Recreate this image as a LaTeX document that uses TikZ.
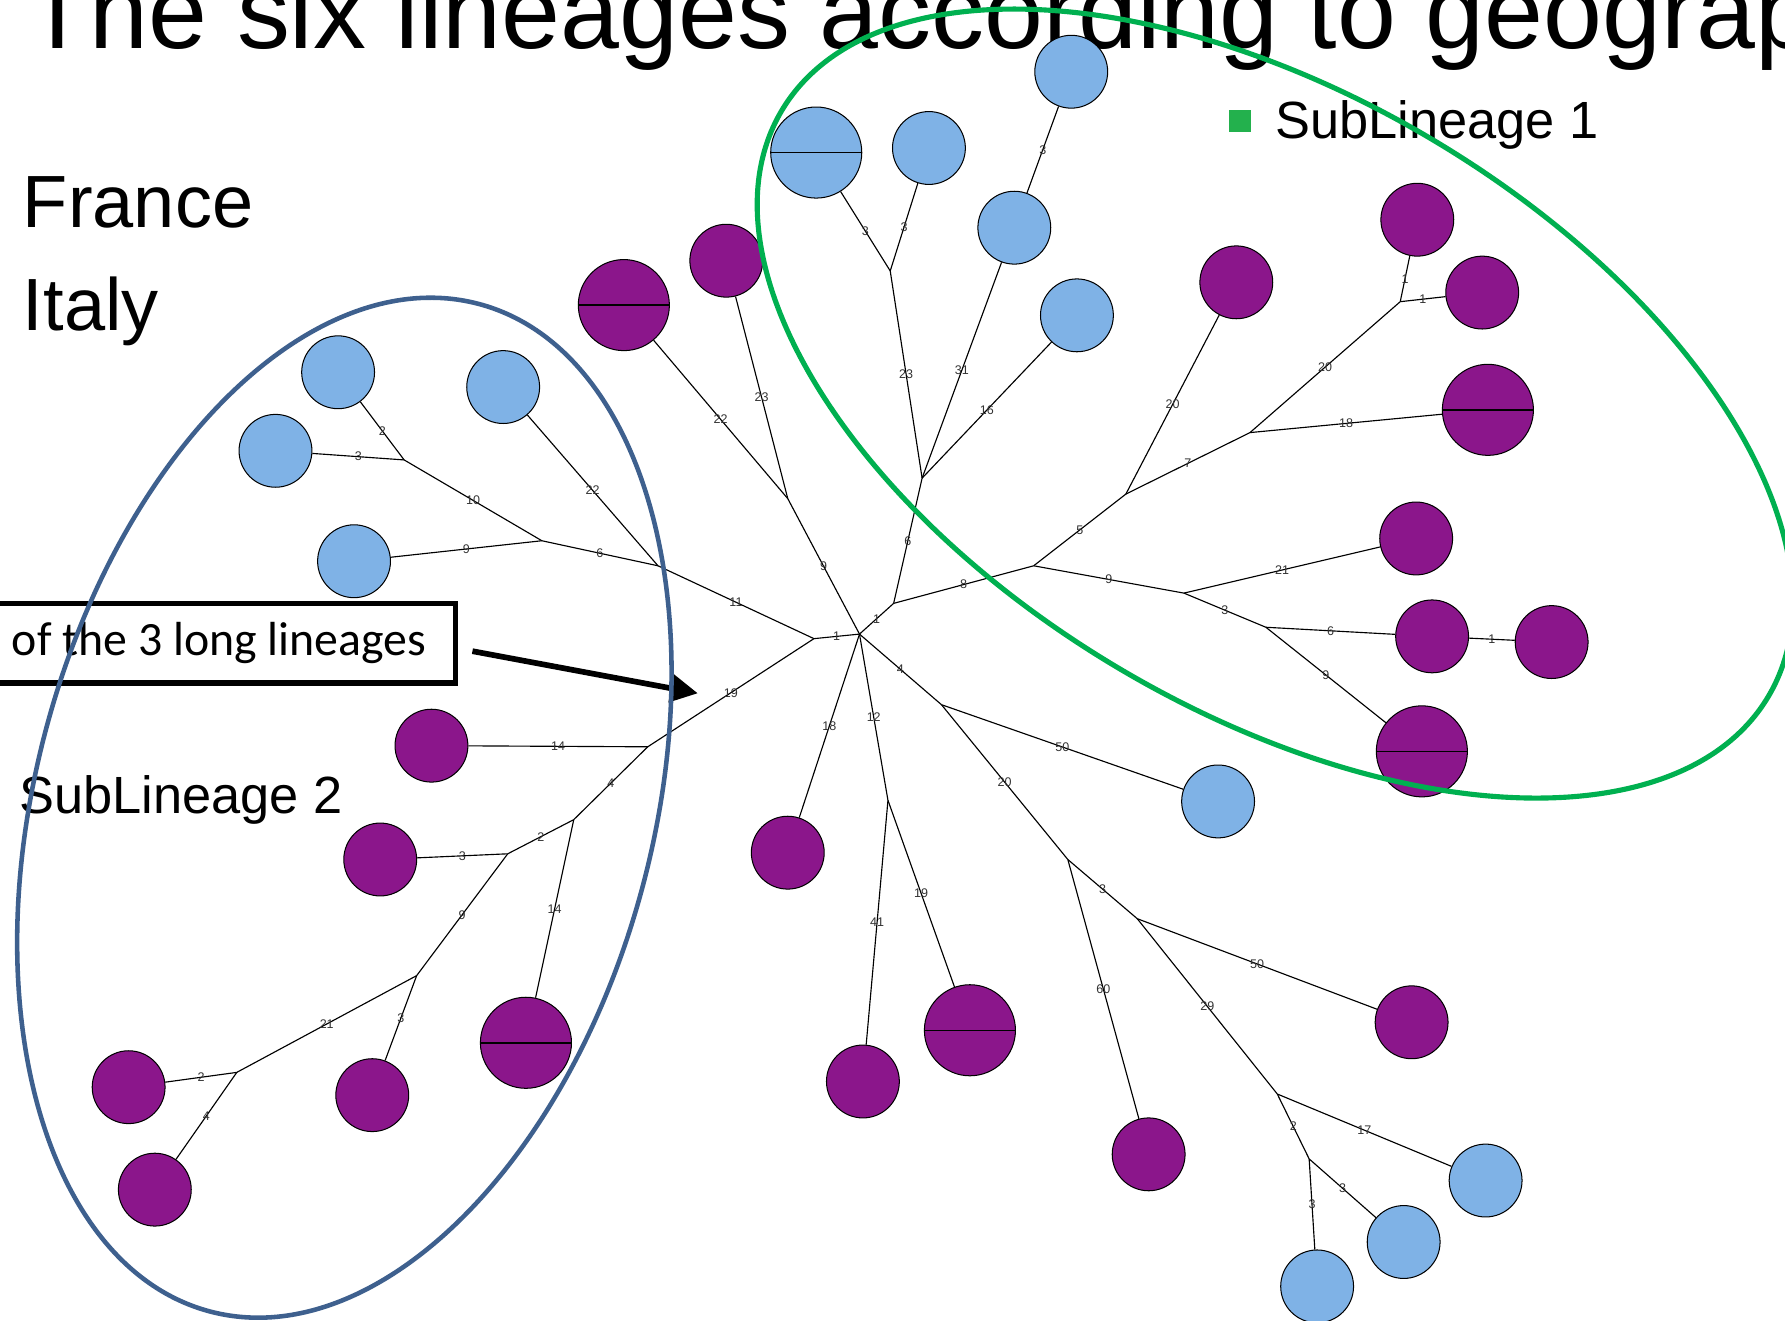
\documentclass[tikz,border=0pt]{standalone}
\usepackage{fontspec}
\setmainfont{Liberation Sans}
\newfontfamily\boxfont{Carlito}
\usetikzlibrary{arrows.meta}
\definecolor{nblue}{RGB}{127,178,230}
\definecolor{npurple}{RGB}{139,22,139}
\definecolor{egreen}{RGB}{0,176,80}
\definecolor{eblue}{RGB}{62,96,142}
\definecolor{sqgreen}{RGB}{35,177,77}
\begin{document}
\begin{tikzpicture}[x=1pt,y=-1pt,
  leaf/.style={circle,draw=black,line width=0.9pt,inner sep=0pt,minimum size=64pt},
  bl/.style={leaf,fill=nblue},
  pu/.style={leaf,fill=npurple},
  dbl/.style={minimum size=80pt},
  edge/.style={draw=black,line width=1pt},
  lbl/.style={font=\fontsize{11}{11}\selectfont,text=black!80,inner sep=0pt},
  bigtext/.style={anchor=base west,inner sep=0pt},
  midline/.style={line width=1.3pt}
]
\useasboundingbox (0,0) rectangle (1568,1160);
\clip (0,0) rectangle (1568,1160);
\fill[white] (0,0) rectangle (1568,1160);

% ---------- texts ----------
\node[bigtext,font=\fontsize{93}{93}\selectfont] (title) at (22,43) {The six lineages according to geograp};
\node[bigtext,font=\fontsize{65}{65}\selectfont] (fr) at (20,200) {France};
\node[bigtext,font=\fontsize{65}{65}\selectfont] (it) at (20,290) {Italy};
\node[fill=sqgreen,minimum size=19pt,inner sep=0pt] (sq) at (1089,106.5) {};
\node[bigtext,font=\fontsize{46}{46}\selectfont] (sl1) at (1120,122) {SubLineage 1};
\node[bigtext,font=\fontsize{46}{46}\selectfont] (sl2) at (17,715) {SubLineage 2};

% ---------- junctions ----------
\coordinate (H) at (755,557);
\coordinate (J1) at (355,404);
\coordinate (J2) at (476,475);
\coordinate (J3) at (715,561);
\coordinate (J4) at (578,497);
\coordinate (J5) at (569,656);
\coordinate (J6) at (504,720);
\coordinate (J7) at (446,750);
\coordinate (J8) at (366,857);
\coordinate (J9) at (208,942);
\coordinate (J10) at (692,438);
\coordinate (J11) at (782,238);
\coordinate (J12) at (810,420);
\coordinate (J13) at (785,530);
\coordinate (J14) at (908,497);
\coordinate (J15) at (989,434);
\coordinate (J16) at (1098,380);
\coordinate (J17) at (1230,265);
\coordinate (J18) at (1040,521);
\coordinate (J19) at (1112,551);
\coordinate (J20) at (827,619);
\coordinate (J21) at (938,755);
\coordinate (J22) at (999,807);
\coordinate (J23) at (1122,961);
\coordinate (J24) at (1150,1018);
\coordinate (J25) at (780,703);

% ---------- leaves ----------
\node[bl] (B1) at (297,327) {};
\node[bl] (B2) at (442,340) {};
\node[bl] (B3) at (242,396) {};
\node[bl] (B4) at (311,493) {};
\node[bl] (B5) at (816,130) {};
\node[bl] (B6) at (941,63) {};
\node[bl] (B7) at (891,200) {};
\node[bl] (B8) at (946,277) {};
\node[bl] (B9) at (1070,704) {};
\node[bl] (B10) at (1305,1037) {};
\node[bl] (B11) at (1233,1091) {};
\node[bl] (B12) at (1157,1130) {};
\node[bl,dbl] (BD1) at (717,134) {};

\node[pu] (P1) at (379,655) {};
\node[pu] (P2) at (334,755) {};
\node[pu] (P3) at (327,962) {};
\node[pu] (P4) at (113,955) {};
\node[pu] (P5) at (136,1045) {};
\node[pu] (P6) at (638,229) {};
\node[pu] (P7) at (1086,248) {};
\node[pu] (P8) at (1245,193) {};
\node[pu] (P9) at (1302,257) {};
\node[pu] (P10) at (1244,473) {};
\node[pu] (P11) at (1258,559) {};
\node[pu] (P12) at (1363,564) {};
\node[pu] (P13) at (1009,1014) {};
\node[pu] (P14) at (1240,898) {};
\node[pu] (P15) at (692,749) {};
\node[pu] (P16) at (758,950) {};
\node[pu,dbl] (PD1) at (462,916) {};
\node[pu,dbl] (PD2) at (548,268) {};
\node[pu,dbl] (PD3) at (1307,360) {};
\node[pu,dbl] (PD4) at (1249,660) {};
\node[pu,dbl] (PD5) at (852,905) {};

\foreach \n in {BD1,PD1,PD2,PD3,PD4,PD5}
  \draw[midline] (\n.west) -- (\n.east);

% ---------- edges ----------
\draw[edge] (J1) -- node[lbl]{2} (B1);
\draw[edge] (J1) -- node[lbl]{3} (B3);
\draw[edge] (J1) -- node[lbl]{10} (J2);
\draw[edge] (J2) -- node[lbl]{9} (B4);
\draw[edge] (J2) -- node[lbl]{6} (J4);
\draw[edge] (B2) -- node[lbl]{22} (J4);
\draw[edge] (J4) -- node[lbl]{11} (J3);
\draw[edge] (J3) -- node[lbl]{1} (H);
\draw[edge] (J3) -- node[lbl]{19} (J5);
\draw[edge] (J5) -- node[lbl]{14} (P1);
\draw[edge] (J5) -- node[lbl]{4} (J6);
\draw[edge] (J6) -- node[lbl]{2} (J7);
\draw[edge] (J7) -- node[lbl]{3} (P2);
\draw[edge] (J6) -- node[lbl]{14} (PD1);
\draw[edge] (J7) -- node[lbl]{9} (J8);
\draw[edge] (J8) -- node[lbl]{3} (P3);
\draw[edge] (J8) -- node[lbl]{21} (J9);
\draw[edge] (J9) -- node[lbl]{2} (P4);
\draw[edge] (J9) -- node[lbl]{4} (P5);

\draw[edge] (PD2) -- node[lbl]{22} (J10);
\draw[edge] (P6) -- node[lbl]{23} (J10);
\draw[edge] (J10) -- node[lbl]{9} (H);

\draw[edge] (BD1) -- node[lbl]{3} (J11);
\draw[edge] (B5) -- node[lbl]{3} (J11);
\draw[edge] (J11) -- node[lbl]{23} (J12);
\draw[edge] (B6) -- node[lbl]{3} (B7);
\draw[edge] (B7) -- node[lbl]{31} (J12);
\draw[edge] (B8) -- node[lbl]{16} (J12);
\draw[edge] (J12) -- node[lbl]{6} (J13);
\draw[edge] (J13) -- node[lbl]{1} (H);
\draw[edge] (J13) -- node[lbl]{8} (J14);
\draw[edge] (J14) -- node[lbl]{5} (J15);
\draw[edge] (J15) -- node[lbl]{20} (P7);
\draw[edge] (J15) -- node[lbl]{7} (J16);
\draw[edge] (J16) -- node[lbl]{20} (J17);
\draw[edge] (J17) -- node[lbl]{1} (P8);
\draw[edge] (J17) -- node[lbl]{1} (P9);
\draw[edge] (J16) -- node[lbl]{18} (PD3);
\draw[edge] (J14) -- node[lbl]{9} (J18);
\draw[edge] (J18) -- node[lbl]{21} (P10);
\draw[edge] (J18) -- node[lbl]{3} (J19);
\draw[edge] (J19) -- node[lbl]{6} (P11);
\draw[edge] (P11) -- node[lbl]{1} (P12);
\draw[edge] (J19) -- node[lbl]{9} (PD4);

\draw[edge] (H) -- node[lbl]{4} (J20);
\draw[edge] (J20) -- node[lbl]{50} (B9);
\draw[edge] (J20) -- node[lbl]{20} (J21);
\draw[edge] (J21) -- node[lbl]{60} (P13);
\draw[edge] (J21) -- node[lbl]{3} (J22);
\draw[edge] (J22) -- node[lbl]{50} (P14);
\draw[edge] (J22) -- node[lbl]{29} (J23);
\draw[edge] (J23) -- node[lbl]{17} (B10);
\draw[edge] (J23) -- node[lbl]{2} (J24);
\draw[edge] (J24) -- node[lbl]{3} (B11);
\draw[edge] (J24) -- node[lbl]{3} (B12);
\draw[edge] (H) -- node[lbl]{18} (P15);
\draw[edge] (H) -- node[lbl]{12} (J25);
\draw[edge] (J25) -- node[lbl]{41} (P16);
\draw[edge] (J25) -- node[lbl]{19} (PD5);

% ---------- callout ----------
\node[draw=black,line width=5pt,minimum width=415pt,minimum height=70pt,inner sep=0pt,
      font=\boxfont\fontsize{42}{42}\selectfont] (box) at (192.5,565) {of the 3 long lineages};
\coordinate (arS) at (415,572);
\coordinate (arE) at (613,609);
\draw[line width=5pt,-{Triangle[length=24pt,width=24pt]}] (arS) -- (arE);

% ---------- sub-lineage ellipses ----------
\draw[eblue,line width=4pt,rotate around={-15:(302.5,709.5)}]
  (302.5,709.5) ellipse [x radius=271pt,y radius=458pt];
\draw[egreen,line width=4.5pt,rotate around={-30.7:(1120,354.5)}]
  (1120,354.5) ellipse [x radius=504pt,y radius=270pt];
\end{tikzpicture}
\end{document}
